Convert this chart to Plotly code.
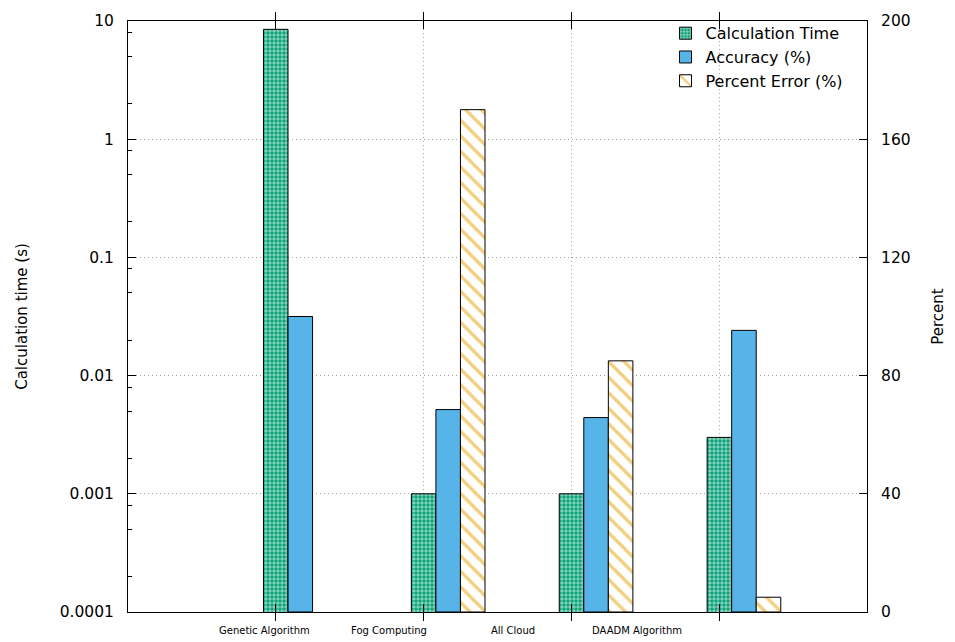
import numpy as np
import plotly.graph_objects as go

categories = ["Genetic Algorithm", "Fog Computing", "All Cloud", "DAADM Algorithm"]
calc_time = [8.5, 0.001, 0.001, 0.003]
accuracy = [100, 68.5, 65.8, 95.3]
percent_error = [None, 170, 85, 5]

left_tickvals = [0.0001, 0.001, 0.01, 0.1, 1, 10]
left_ticktext = ["0.0001", "0.001", "0.01", "0.1", "1", "10"]
right_tickvals = [0, 40, 80, 120, 160, 200]
minor_mult = [2, 5, 8]

FONT = "DejaVu Sans"
BW = 0.166
idx = np.arange(len(categories))
grid_pos = idx - BW
label_pos = -0.243 + idx * 0.8397
XR = [-1.165, 3.832]

minor_vals = [m * 10.0 ** e for e in range(-4, 1) for m in minor_mult]

fig = go.Figure()
fig.add_trace(go.Bar(
    x=idx, y=calc_time, name="Calculation Time", width=BW, offset=-1.5 * BW,
    marker=dict(color="#009e73", line=dict(color="black", width=1),
                pattern=dict(shape=".", fgcolor="white", bgcolor="#009e73", size=4, solidity=0.6)),
    yaxis="y"))
fig.add_trace(go.Bar(
    x=idx, y=accuracy, name="Accuracy (%)", width=BW, offset=-0.5 * BW,
    marker=dict(color="#56b4e9", line=dict(color="black", width=1)),
    yaxis="y2"))
fig.add_trace(go.Bar(
    x=idx, y=percent_error, name="Percent Error (%)", width=BW, offset=0.5 * BW,
    marker=dict(color="white", line=dict(color="black", width=1),
                pattern=dict(shape="\\", fgcolor="#e69f00", bgcolor="white", size=11, solidity=0.3)),
    yaxis="y2"))

for pos, name in zip(label_pos, categories):
    fig.add_annotation(x=pos, y=0, xref="x", yref="paper", yanchor="top", xanchor="center",
                       yshift=-11, text=name, showarrow=False,
                       font=dict(family=FONT, size=10, color="black"))

GRID = dict(showgrid=True, gridcolor="#a0a0a0", griddash="1px,3px", gridwidth=1)

fig.update_layout(
    width=955, height=642,
    margin=dict(l=128, r=85, t=19, b=30),
    paper_bgcolor="white", plot_bgcolor="white",
    font=dict(family=FONT, size=15, color="black"),
    barmode="overlay",
    showlegend=True,
    legend=dict(x=0.975, y=1.008, xanchor="right", yanchor="top",
                bgcolor="rgba(0,0,0,0)", font=dict(size=16), tracegroupgap=0),
    xaxis=dict(range=XR, tickmode="array", tickvals=grid_pos, showticklabels=False,
               ticks="inside", ticklen=8, tickcolor="black",
               showline=True, linecolor="black", linewidth=1, mirror="allticks",
               zeroline=False, **GRID),
    yaxis=dict(type="log", range=[-4, 1], tickmode="array", tickvals=left_tickvals,
               ticktext=left_ticktext, ticks="inside", ticklen=8, tickcolor="black",
               showline=True, linecolor="black", linewidth=1,
               ticklabelstandoff=10, tickfont=dict(size=15.5),
               minor=dict(tickmode="array", tickvals=minor_vals, ticks="inside",
                          ticklen=4, tickcolor="black", showgrid=False),
               title=dict(text="Calculation time (s)", font=dict(size=15), standoff=28),
               zeroline=False, **GRID),
    yaxis2=dict(overlaying="y", side="right", range=[0, 200], tickmode="array",
                tickvals=right_tickvals, ticks="inside", ticklen=8, tickcolor="black",
                showgrid=False, showline=True, linecolor="black", linewidth=1,
                ticklabelstandoff=10, tickfont=dict(size=15.5),
                title=dict(text="Percent", font=dict(size=15), standoff=22),
                zeroline=False),
)

fig.write_html("out.html")
